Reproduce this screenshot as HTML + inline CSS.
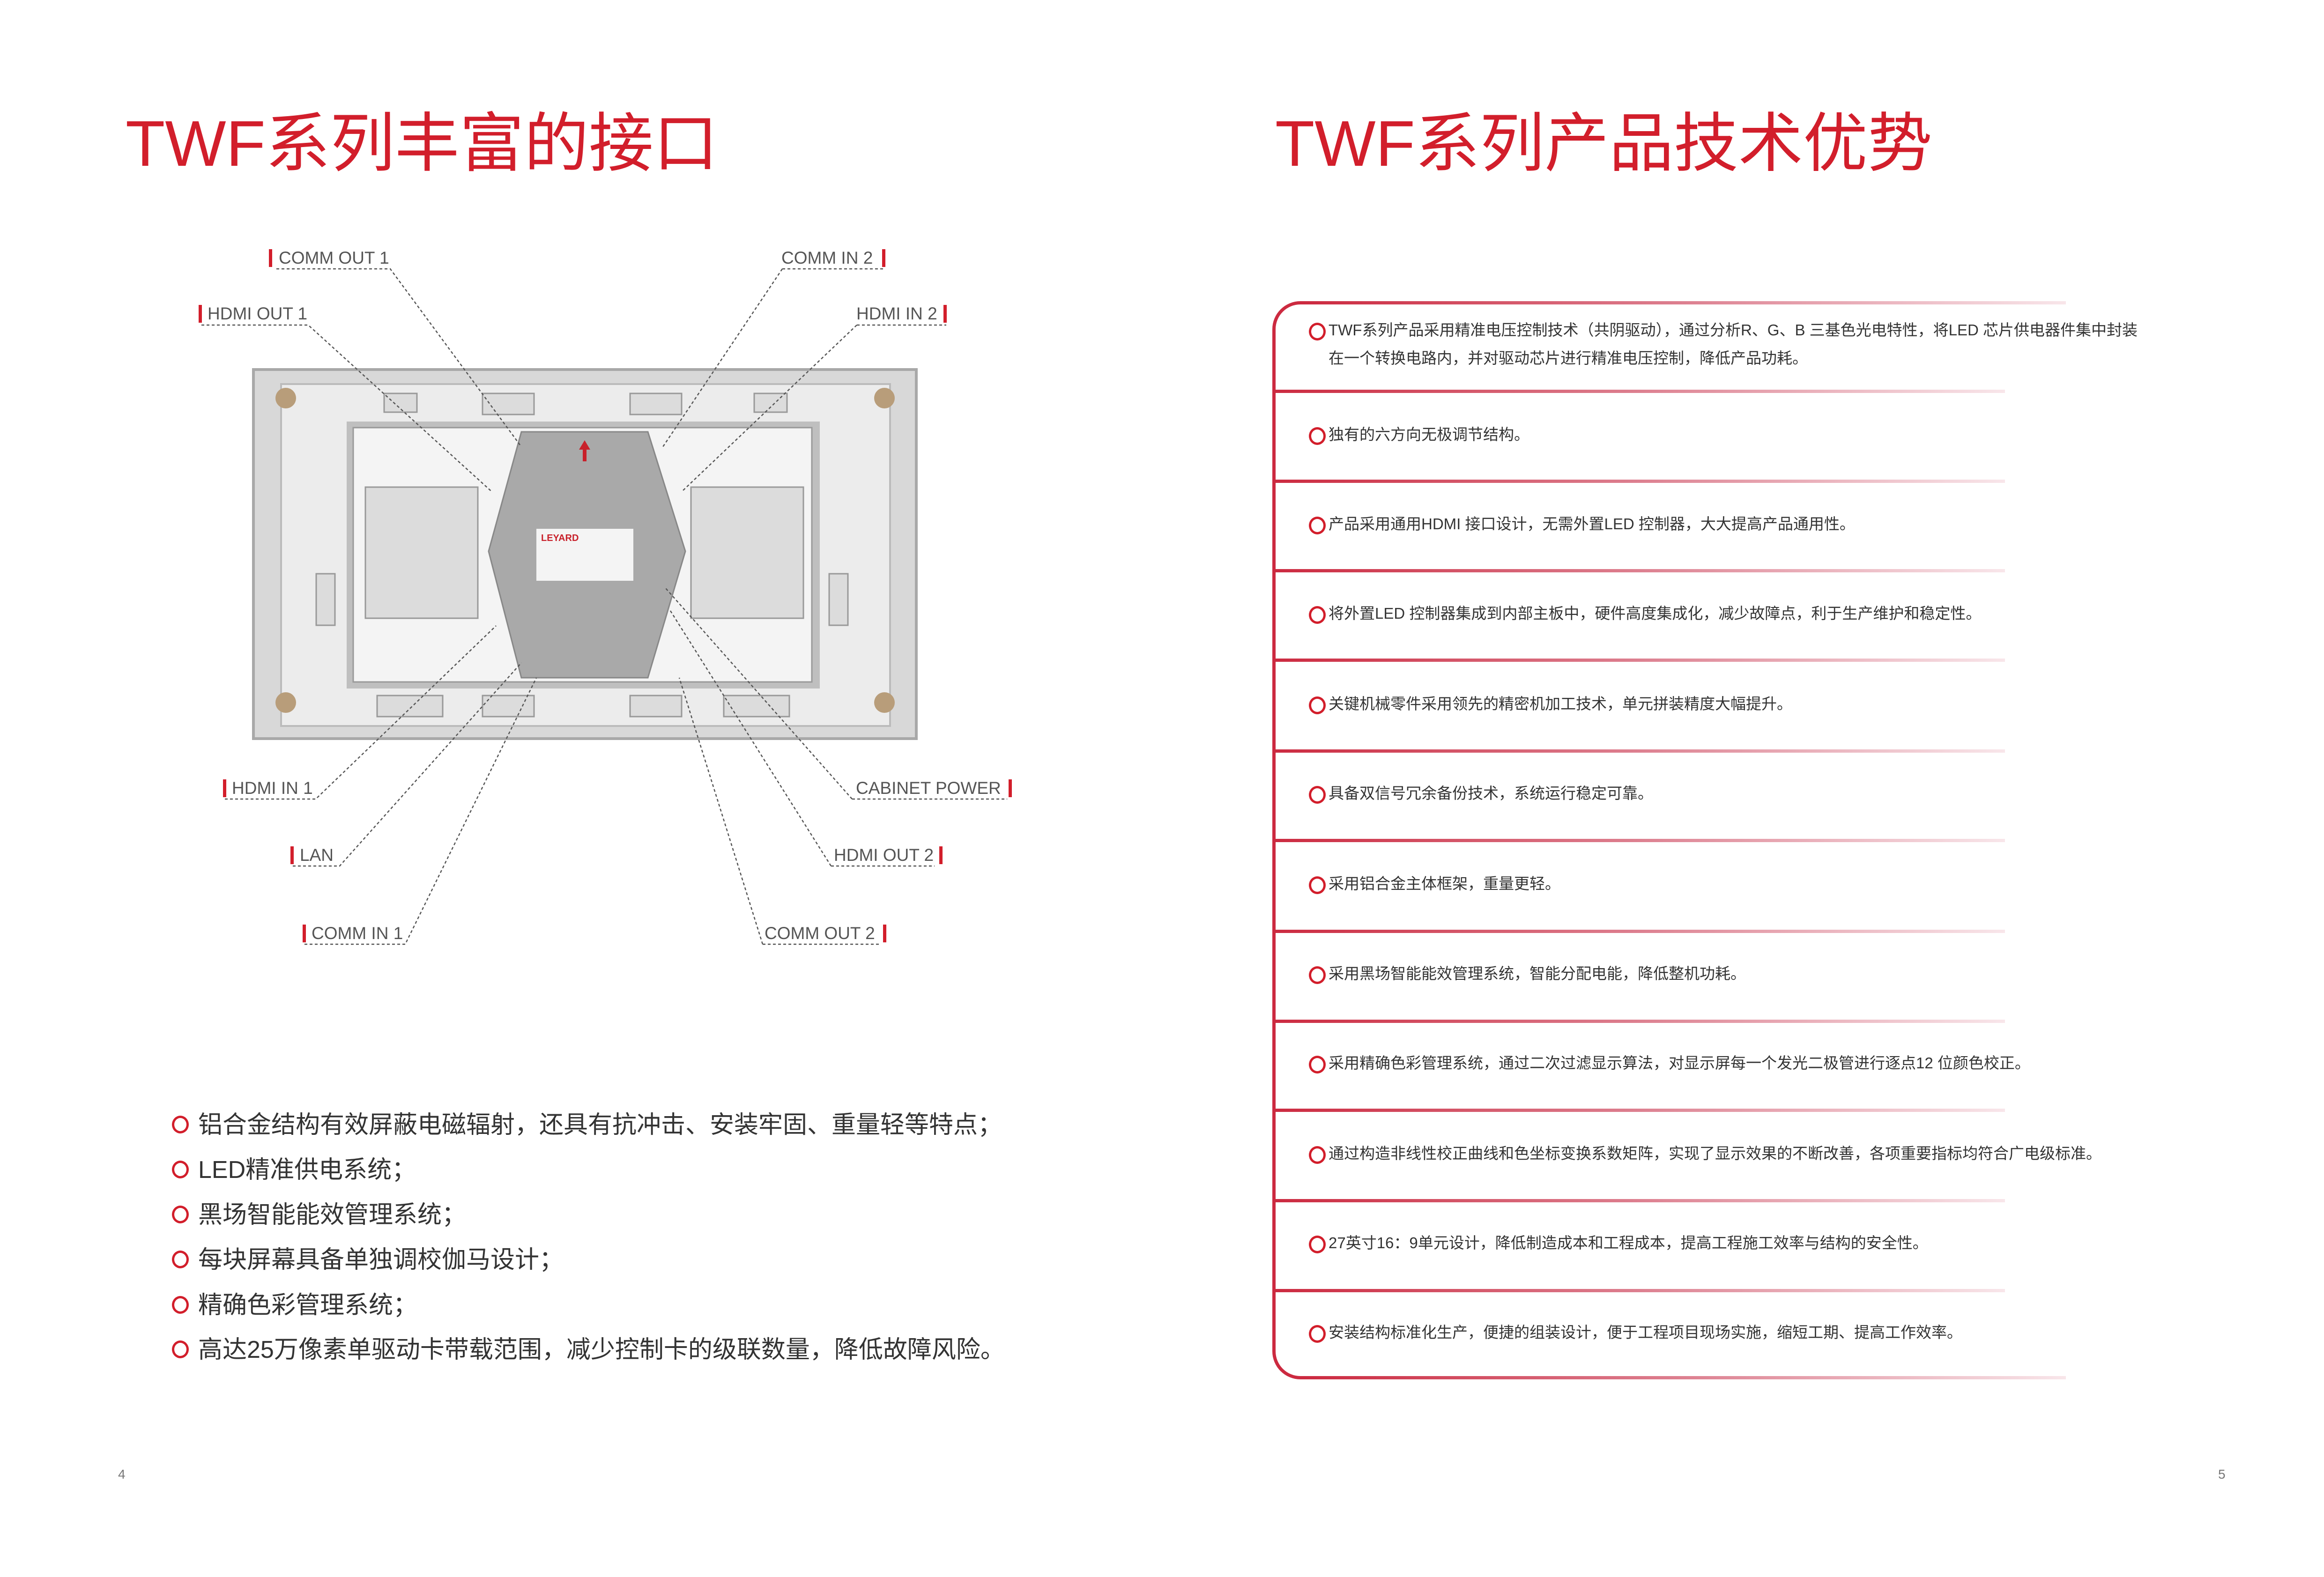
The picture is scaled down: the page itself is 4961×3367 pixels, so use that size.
<!DOCTYPE html>
<html><head><meta charset="utf-8"><style>
*{margin:0;padding:0;box-sizing:border-box}
body{width:4961px;height:3367px;background:#fff;position:relative;overflow:hidden;font-family:"Liberation Sans","Noto Sans CJK SC",sans-serif;color:#333}
.t{position:absolute;white-space:nowrap}
.title{font-size:138px;color:#d21e2b;top:238px;line-height:1}
.lb{font-size:37px;color:#555;line-height:1}
.bl{font-size:52px;color:#333;line-height:1}
.bl::before{content:"";position:absolute;left:-56px;top:6px;width:26px;height:28px;border:5px solid #d21e2b;border-radius:50%}
.rl{font-size:33px;color:#333;line-height:1}
.rl.c::before{content:"";position:absolute;left:-42px;top:1px;width:26px;height:28px;border:5px solid #d21e2b;border-radius:50%}
.sep{position:absolute;left:2720px;height:7px;background:linear-gradient(90deg,#cc2a40,#dd8090 50%,#f8e6ea)}
</style></head><body>
<div class="t title" style="left:268px">TWF系列丰富的接口</div>
<div class="t title" style="left:2722px">TWF系列产品技术优势</div>

<svg style="position:absolute;left:0;top:0" width="2300" height="2200">
<g>
<rect x="541" y="789" width="1415" height="788" fill="#d8d8d8" stroke="#a8a8a8" stroke-width="6"/>
<rect x="600" y="820" width="1300" height="730" fill="#ececec" stroke="#bbb" stroke-width="4"/>
<rect x="740" y="900" width="1010" height="570" fill="#bfbfbf"/>
<rect x="754" y="913" width="979" height="543" fill="#f4f4f4" stroke="#999" stroke-width="3"/>
<g fill="#dcdcdc" stroke="#999" stroke-width="3">
<rect x="780" y="1040" width="240" height="280"/><rect x="1475" y="1040" width="240" height="280"/>
<rect x="820" y="840" width="70" height="40"/><rect x="1030" y="840" width="110" height="45"/><rect x="1345" y="840" width="110" height="45"/><rect x="1610" y="840" width="70" height="40"/>
<rect x="805" y="1485" width="140" height="45"/><rect x="1030" y="1485" width="110" height="45"/><rect x="1345" y="1485" width="110" height="45"/><rect x="1545" y="1485" width="140" height="45"/>
<rect x="675" y="1225" width="40" height="110"/><rect x="1770" y="1225" width="40" height="110"/>
</g>
<g fill="#b89d7a"><circle cx="610" cy="850" r="22"/><circle cx="1888" cy="850" r="22"/><circle cx="610" cy="1500" r="22"/><circle cx="1888" cy="1500" r="22"/></g>
<polygon points="1113,922 1383,922 1463,1177 1383,1447 1113,1447 1043,1177" fill="#a9a9a9" stroke="#888" stroke-width="3"/>
<rect x="1145" y="1129" width="207" height="111" fill="#f4f4f4"/>
<text x="1155" y="1155" font-size="20" fill="#c8202a" font-weight="bold">LEYARD</text>
<path d="M1248 950 L1248 985" stroke="#c8202a" stroke-width="8"/><polygon points="1236,960 1248,940 1260,960" fill="#c8202a"/>
</g>
<g stroke="#555" stroke-width="2.5" stroke-dasharray="6,5" fill="none">
<path d="M590 574 H833 L1113 954"/>
<path d="M430 694 H658 L1049 1049"/>
<path d="M1670 574 H1888 M1670 574 L1415 954"/>
<path d="M1829 694 H2020 M1829 694 L1456 1049"/>
<path d="M480 1706 H674 L1059 1336"/>
<path d="M625 1849 H725 L1113 1415"/>
<path d="M650 2016 H865 L1145 1447"/>
<path d="M1819 1706 H2150 M1819 1706 L1421 1256"/>
<path d="M1774 1849 H1995 M1774 1849 L1431 1304"/>
<path d="M1628 2016 H1880 M1628 2016 L1450 1447"/>
</g>
<g fill="#d21e2b">
<rect x="574" y="532" width="7" height="38"/><rect x="1883" y="532" width="7" height="38"/>
<rect x="424" y="651" width="7" height="38"/><rect x="2014" y="651" width="7" height="38"/>
<rect x="476" y="1664" width="7" height="38"/><rect x="2153" y="1664" width="7" height="38"/>
<rect x="620" y="1807" width="7" height="38"/><rect x="2005" y="1807" width="7" height="38"/>
<rect x="646" y="1974" width="7" height="38"/><rect x="1885" y="1974" width="7" height="38"/>
</g>
</svg>
<div class="t lb" style="left:595px;top:532px">COMM OUT 1</div>
<div class="t lb" style="left:1668px;top:532px">COMM IN 2</div>
<div class="t lb" style="left:443px;top:651px">HDMI OUT 1</div>
<div class="t lb" style="left:1828px;top:651px">HDMI IN 2</div>
<div class="t lb" style="left:495px;top:1664px">HDMI IN 1</div>
<div class="t lb" style="left:1827px;top:1664px">CABINET POWER</div>
<div class="t lb" style="left:640px;top:1807px">LAN</div>
<div class="t lb" style="left:1780px;top:1807px">HDMI OUT 2</div>
<div class="t lb" style="left:665px;top:1974px">COMM IN 1</div>
<div class="t lb" style="left:1632px;top:1974px">COMM OUT 2</div>

<div class="t bl" style="left:423px;top:2376px">铝合金结构有效屏蔽电磁辐射，还具有抗冲击、安装牢固、重量轻等特点；</div>
<div class="t bl" style="left:423px;top:2472px">LED精准供电系统；</div>
<div class="t bl" style="left:423px;top:2568px">黑场智能能效管理系统；</div>
<div class="t bl" style="left:423px;top:2664px">每块屏幕具备单独调校伽马设计；</div>
<div class="t bl" style="left:423px;top:2761px">精确色彩管理系统；</div>
<div class="t bl" style="left:423px;top:2856px">高达25万像素单驱动卡带载范围，减少控制卡的级联数量，降低故障风险。</div>

<div style="position:absolute;left:2716px;top:643px;width:200px;height:2302px;border:7px solid #cc2a40;border-right:none;border-radius:60px 0 0 60px"></div>
<div class="sep" style="left:2780px;top:643px;width:1630px"></div>
<div class="sep" style="top:832px;width:1560px"></div>
<div class="sep" style="top:1024px;width:1560px"></div>
<div class="sep" style="top:1215px;width:1560px"></div>
<div class="sep" style="top:1406px;width:1560px"></div>
<div class="sep" style="top:1600px;width:1560px"></div>
<div class="sep" style="top:1791px;width:1560px"></div>
<div class="sep" style="top:1985px;width:1560px"></div>
<div class="sep" style="top:2177px;width:1560px"></div>
<div class="sep" style="top:2367px;width:1560px"></div>
<div class="sep" style="top:2560px;width:1560px"></div>
<div class="sep" style="top:2752px;width:1560px"></div>
<div class="sep" style="left:2780px;top:2938px;width:1630px"></div>

<div class="t rl c" style="left:2836px;top:688px">TWF系列产品采用精准电压控制技术（共阴驱动），通过分析R、G、B 三基色光电特性，将LED 芯片供电器件集中封装</div>
<div class="t rl" style="left:2836px;top:748px">在一个转换电路内，并对驱动芯片进行精准电压控制，降低产品功耗。</div>
<div class="t rl c" style="left:2836px;top:911px">独有的六方向无极调节结构。</div>
<div class="t rl c" style="left:2836px;top:1102px">产品采用通用HDMI 接口设计，无需外置LED 控制器，大大提高产品通用性。</div>
<div class="t rl c" style="left:2836px;top:1293px">将外置LED 控制器集成到内部主板中，硬件高度集成化，减少故障点，利于生产维护和稳定性。</div>
<div class="t rl c" style="left:2836px;top:1486px">关键机械零件采用领先的精密机加工技术，单元拼装精度大幅提升。</div>
<div class="t rl c" style="left:2836px;top:1677px">具备双信号冗余备份技术，系统运行稳定可靠。</div>
<div class="t rl c" style="left:2836px;top:1870px">采用铝合金主体框架，重量更轻。</div>
<div class="t rl c" style="left:2836px;top:2062px">采用黑场智能能效管理系统，智能分配电能，降低整机功耗。</div>
<div class="t rl c" style="left:2836px;top:2253px">采用精确色彩管理系统，通过二次过滤显示算法，对显示屏每一个发光二极管进行逐点12 位颜色校正。</div>
<div class="t rl c" style="left:2836px;top:2446px">通过构造非线性校正曲线和色坐标变换系数矩阵，实现了显示效果的不断改善，各项重要指标均符合广电级标准。</div>
<div class="t rl c" style="left:2836px;top:2637px">27英寸16：9单元设计，降低制造成本和工程成本，提高工程施工效率与结构的安全性。</div>
<div class="t rl c" style="left:2836px;top:2828px">安装结构标准化生产，便捷的组装设计，便于工程项目现场实施，缩短工期、提高工作效率。</div>

<div class="t" style="left:252px;top:3132px;font-size:28px;color:#777">4</div>
<div class="t" style="left:4735px;top:3132px;font-size:28px;color:#777">5</div>
</body></html>
